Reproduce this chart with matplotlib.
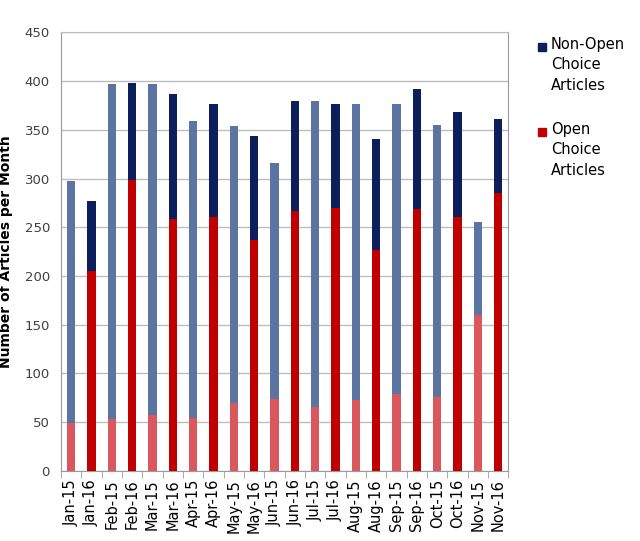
import matplotlib
matplotlib.use("Agg")
import matplotlib.pyplot as plt
from matplotlib.patches import Rectangle
import numpy as np

categories = ["Jan-15", "Jan-16", "Feb-15", "Feb-16", "Mar-15", "Mar-16", "Apr-15", "Apr-16",
              "May-15", "May-16", "Jun-15", "Jun-16", "Jul-15", "Jul-16", "Aug-15", "Aug-16",
              "Sep-15", "Sep-16", "Oct-15", "Oct-16", "Nov-15", "Nov-16"]
open_choice = [49, 205, 53, 298, 57, 258, 54, 261, 69, 237, 74, 267, 65, 270, 73, 227, 79, 269, 76, 261, 160, 285]
totals = [297, 277, 397, 398, 397, 387, 359, 377, 354, 344, 316, 380, 380, 377, 377, 341, 377, 392, 355, 368, 255, 361]
non_open = [t - o for t, o in zip(totals, open_choice)]

light_red = "#d9575d"
dark_red = "#c00000"
slate = "#5b74a1"
navy = "#0c1f5c"

fig = plt.figure(figsize=(6.4, 5.41), dpi=100)
ax = fig.add_axes([0.0953, 0.130, 0.699, 0.810])

x = np.arange(len(categories))
is15 = [c.endswith("15") for c in categories]
bot_colors = [light_red if f else dark_red for f in is15]
top_colors = [slate if f else navy for f in is15]

ax.bar(x, open_choice, width=0.4, color=bot_colors, zorder=3)
ax.bar(x, non_open, width=0.4, bottom=open_choice, color=top_colors, zorder=3)

ax.set_xlim(-0.5, len(categories) - 0.5)
ax.set_ylim(0, 450)
ax.set_yticks(range(0, 451, 50))
ax.yaxis.grid(True, color="#bdbdbd", linewidth=1, zorder=0)
ax.set_xticks(x)
ax.set_xticklabels(categories, rotation=90, fontsize=10.5)
ax.tick_params(axis="x", length=0, pad=6)
ax.set_xticks(np.arange(-0.5, len(categories), 1), minor=True)
ax.tick_params(axis="x", which="minor", length=5, color="#9a9a9a")
ax.tick_params(axis="y", length=0, labelsize=9.5, pad=8)
for lbl in ax.get_yticklabels():
    lbl.set_color("#404040")
for s in ["left", "bottom", "right"]:
    ax.spines[s].set_color("#9a9a9a")
ax.spines["top"].set_color("#bdbdbd")
ax.set_ylabel("Number of Articles per Month", fontsize=10, fontweight="bold", labelpad=8)

# legend
W, H = 640, 541
def rect(px, py, size, color):
    fig.patches.append(Rectangle((px / W, 1 - (py + size) / H), size / W, size / H,
                                 transform=fig.transFigure, color=color))
rect(538, 43, 8, navy)
fig.text(551 / W, 1 - 37 / H, "Non-Open\nChoice\nArticles", fontsize=10.5, va="top", ha="left",
         linespacing=1.45)
rect(538, 128, 8, dark_red)
fig.text(551 / W, 1 - 122 / H, "Open\nChoice\nArticles", fontsize=10.5, va="top", ha="left",
         linespacing=1.45)

fig.savefig("out.png", dpi=100)
